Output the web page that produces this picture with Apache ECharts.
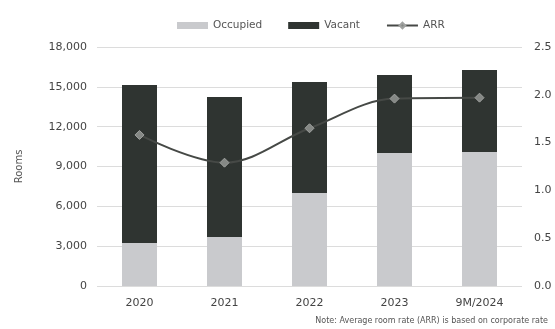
<!DOCTYPE html>
<html><head><meta charset="utf-8">
<script src="https://cdn.jsdelivr.net/npm/echarts@6/dist/echarts.min.js"></script>
<style>html,body{margin:0;padding:0;background:#fff}#c{width:555px;height:329px}</style>
</head><body><div id="c"></div>
<script>
const categories = ['2020', '2021', '2022', '2023', '9M/2024'];
const occupied = [3240, 3690, 7000, 10020, 10090];
const vacant = [11900, 10540, 8360, 5870, 6180];
const arr = [1.58, 1.29, 1.65, 1.96, 1.97];
const leftTicks = [0, 18000, 3000];
const rightTicks = [0, 2.5, 0.5];

const chart = echarts.init(document.getElementById('c'), null, {renderer: 'canvas'});
const font = '"DejaVu Sans", sans-serif';
chart.setOption({
  animation: false,
  textStyle: {fontFamily: font},
  legend: {
    top: 15, left: 172, itemWidth: 31, itemHeight: 7, itemGap: 26,
    textStyle: {color: '#555', fontSize: 10.5, fontFamily: font},
    data: [
      {name: 'Occupied', icon: 'rect'},
      {name: 'Vacant', icon: 'rect'},
      {name: 'ARR'}
    ]
  },
  grid: {left: 97, right: 33, top: 47, bottom: 43},
  xAxis: {
    type: 'category', data: categories,
    axisLine: {show: false}, axisTick: {show: false},
    axisLabel: {color: '#444', fontSize: 11, margin: 12, fontFamily: font}
  },
  yAxis: [{
    type: 'value', min: leftTicks[0], max: leftTicks[1], interval: leftTicks[2],
    name: 'Rooms', nameLocation: 'middle', nameGap: 73, nameRotate: 90,
    nameTextStyle: {color: '#555', fontSize: 10, fontFamily: font},
    axisLabel: {color: '#444', fontSize: 11, margin: 10, fontFamily: font,
      formatter: v => v.toLocaleString('en-US')},
    splitLine: {lineStyle: {color: '#dcdcdc', width: 1}},
    axisLine: {show: false}, axisTick: {show: false}
  }, {
    type: 'value', min: rightTicks[0], max: rightTicks[1], interval: rightTicks[2],
    axisLabel: {color: '#444', fontSize: 11, margin: 12, fontFamily: font,
      formatter: v => v.toFixed(1)},
    splitLine: {show: false}, axisLine: {show: false}, axisTick: {show: false}
  }],
  series: [
    {name: 'Occupied', type: 'bar', stack: 'rooms', data: occupied, barWidth: 35,
      itemStyle: {color: '#c9cacd'}},
    {name: 'Vacant', type: 'bar', stack: 'rooms', data: vacant, barWidth: 35,
      itemStyle: {color: '#2f3431'}},
    {name: 'ARR', type: 'line', yAxisIndex: 1, data: arr, smooth: 0.35,
      symbol: 'diamond', symbolSize: 9,
      lineStyle: {color: '#464946', width: 2},
      itemStyle: {color: '#858885', borderColor: '#a0a2a0', borderWidth: 1}}
  ],
  graphic: [{
    type: 'text', right: 7, top: 317,
    style: {text: 'Note: Average room rate (ARR) is based on corporate rate',
      fill: '#555', fontSize: 8, fontFamily: font}
  }]
});
</script></body></html>
